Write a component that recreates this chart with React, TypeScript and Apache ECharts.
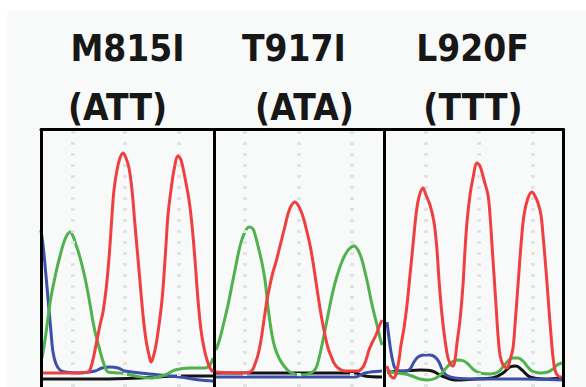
import React, { useEffect, useRef } from "react";
import * as echarts from "echarts";

// ---- labels ----
const mutationLabels = ["M815I", "T917I", "L920F"];
const codonLabels = ["(ATT)", "(ATA)", "(TTT)"];

// base-call positions (scan units) and panel dividers (scan units)
const baseCallScans = [31.5, 84, 138, 204, 258, 311, 385, 438, 492];
const panelDividers = [173, 343];

// ---- trace data: [scan, intensity] ----
// Panel 1 (M815I)
const redP1 = [[1,12],[29,12],[47,13],[50,18],[53,30],[56,45],[59,60],[62,73],[65,95],[67,115],[69,140],[71,170],[73,195],[76,215],[79,227],[82,232],[85,227],[88,217],[91,195],[94,160],[98,115],[102,70],[105,45],[108,30],[110,23],[112,27],[115,40],[118,60],[121,85],[123,110],[125,140],[127,170],[130,195],[133,215],[137,229],[140,225],[144,207],[148,185],[151,160],[154,125],[157,85],[160,55],[163,37],[166,25],[169,17],[172,13]];
const greenP1 = [[1,27],[4,45],[7,67],[10,88],[13,103],[16,117],[19,129],[22,140],[25,148],[29,153],[32,149],[35,140],[38,131],[41,120],[44,107],[47,92],[50,75],[52,63],[55,49],[58,38],[61,27],[64,18],[67,13],[79,12],[94,9],[109,7],[124,10],[134,15],[149,17],[164,17],[169,20],[172,27]];
const blueP1 = [[0,155],[2,140],[4,120],[6,98],[8,75],[10,53],[12,33],[15,21],[19,15],[24,13],[39,12],[54,14],[61,17],[69,18],[77,17],[84,14],[99,12],[119,10],[139,8],[159,5],[172,4]];
const blackP1 = [[1,6],[60,6],[100,7],[140,9],[172,9]];

// Panel 2 (T917I)
const redP2 = [[175,13],[199,12],[209,13],[212,16],[214,21],[217,30],[220,45],[223,65],[226,85],[229,100],[232,113],[235,123],[238,135],[241,147],[244,159],[247,171],[250,179],[254,183],[257,180],[260,174],[263,165],[266,153],[269,140],[272,123],[275,103],[278,83],[281,65],[284,50],[287,37],[290,29],[293,22],[297,17],[304,14],[317,14],[322,18],[325,25],[328,35],[331,42],[335,50],[338,58],[341,65]];
const greenP2 = [[175,35],[179,47],[183,63],[187,80],[191,100],[195,120],[199,139],[203,151],[208,158],[212,156],[215,147],[218,135],[221,122],[224,105],[226,87],[228,70],[231,50],[234,37],[238,27],[243,19],[249,13],[259,10],[270,12],[275,17],[278,27],[281,40],[284,55],[287,70],[290,85],[293,98],[296,109],[300,121],[304,130],[308,136],[313,139],[317,135],[321,125],[324,113],[327,100],[330,85],[333,72],[336,60],[339,47],[341,40]];
const blueP2 = [[175,8],[314,8],[324,12],[341,14]];
const blackP2 = [[175,12],[314,12],[324,9],[341,8]];

// Panel 3 (L920F)
const redP3 = [[346,19],[349,10],[353,7],[356,15],[358,25],[360,40],[363,57],[366,80],[369,110],[372,140],[375,170],[378,188],[382,197],[385,190],[389,180],[393,163],[396,135],[398,105],[401,70],[404,45],[407,27],[410,20],[412,19],[414,25],[416,42],[419,65],[422,100],[424,135],[426,163],[429,190],[432,207],[436,222],[439,219],[443,205],[447,190],[449,170],[451,140],[453,110],[455,80],[457,50],[459,30],[462,20],[466,17],[469,25],[472,37],[474,60],[477,100],[480,140],[483,170],[487,187],[491,193],[494,189],[497,182],[500,170],[502,150],[504,127],[506,102],[508,75],[510,50],[512,28],[514,15],[517,9],[521,8]];
const greenP3 = [[346,15],[354,12],[364,11],[371,9],[379,6],[387,5],[395,7],[401,12],[406,18],[411,23],[417,25],[423,24],[428,20],[433,15],[439,12],[449,11],[457,13],[462,18],[467,24],[472,27],[477,27],[482,24],[486,19],[491,14],[499,12],[507,13],[512,16],[516,20],[521,22]];
const blueP3 = [[346,63],[348,47],[350,33],[352,23],[354,17],[359,14],[365,14],[369,16],[373,23],[377,28],[383,30],[389,30],[394,28],[398,23],[401,16],[405,10],[414,7],[439,6],[479,6],[521,5]];
const blackP3 = [[346,13],[364,14],[379,15],[391,14],[401,9],[414,5],[434,6],[451,7],[462,12],[469,18],[475,19],[481,15],[489,8],[504,6],[521,7]];

const COLORS = { red: "#ee4040", green: "#4fb24d", blue: "#3d4fa8", black: "#141414" };

const traces: { color: string; data: number[][]; z: number }[] = [
  { color: COLORS.black, data: blackP1, z: 2 },
  { color: COLORS.black, data: blackP2, z: 2 },
  { color: COLORS.black, data: blackP3, z: 2 },
  { color: COLORS.blue, data: blueP1, z: 3 },
  { color: COLORS.blue, data: blueP2, z: 3 },
  { color: COLORS.blue, data: blueP3, z: 3 },
  { color: COLORS.green, data: greenP1, z: 4 },
  { color: COLORS.green, data: greenP2, z: 4 },
  { color: COLORS.green, data: greenP3, z: 4 },
  { color: COLORS.red, data: redP1, z: 5 },
  { color: COLORS.red, data: redP2, z: 5 },
  { color: COLORS.red, data: redP3, z: 5 },
];

// layout of header texts (pixel centres)
const mutationX = [127.5, 294, 472.5];
const codonX = [117.5, 304.5, 473];
const FONT = 'bold 38px "DejaVu Sans"';

const borderAxisLine = { show: true, onZero: false, lineStyle: { color: "#000", width: 3 } };

export default function App() {
  const ref = useRef<HTMLDivElement>(null);
  useEffect(() => {
    if (!ref.current) return;
    const chart = echarts.init(ref.current, undefined, { renderer: "svg" });
    const textEl = (t: string, x: number, y: number) => ({
      type: "text",
      x,
      y,
      scaleX: 0.87,
      z: 10,
      style: {
        text: t,
        font: FONT,
        fill: "#171717",
        textAlign: "center",
        textVerticalAlign: "middle",
        align: "center",
        verticalAlign: "middle",
      },
    });
    const series: any[] = traces.map((t) => ({
      type: "line",
      data: t.data,
      smooth: 0.35,
      symbol: "none",
      z: t.z,
      silent: true,
      lineStyle: { color: t.color, width: 3 },
      itemStyle: { color: t.color },
      emphasis: { disabled: true },
    }));
    series.push({
      type: "line",
      data: [],
      z: 1,
      silent: true,
      markLine: {
        silent: true,
        symbol: ["none", "none"],
        label: { show: false },
        emphasis: { disabled: true },
        lineStyle: { color: "#e2e4e3", width: 4, type: [3, 8] },
        data: baseCallScans.map((x) => ({ xAxis: x })),
      },
    });
    series.push({
      type: "line",
      data: [],
      z: 8,
      silent: true,
      markLine: {
        silent: true,
        symbol: ["none", "none"],
        label: { show: false },
        emphasis: { disabled: true },
        lineStyle: { color: "#000", width: 3, type: "solid" },
        data: panelDividers.map((x) => ({ xAxis: x })),
      },
    });
    const hiddenParts = {
      axisTick: { show: false },
      axisLabel: { show: false },
      splitLine: { show: false },
      z: 9,
    };
    chart.setOption({
      animation: false,
      backgroundColor: "#ffffff",
      grid: { left: 41, right: 22.5, top: 129.5, bottom: 0, show: false },
      xAxis: {
        type: "value",
        min: 0,
        max: 522.5,
        position: "top",
        axisLine: borderAxisLine,
        ...hiddenParts,
      },
      yAxis: [
        { type: "value", min: -2, max: 255.5, position: "left", axisLine: borderAxisLine, ...hiddenParts },
        { type: "value", min: -2, max: 255.5, position: "right", axisLine: borderAxisLine, ...hiddenParts },
      ],
      graphic: [
        {
          type: "rect",
          z: -10,
          silent: true,
          shape: { x: 7.5, y: 10, width: 600, height: 400 },
          style: { fill: "#f8faf9" },
        },
        ...mutationLabels.map((t, i) => textEl(t, mutationX[i], 48)),
        ...codonLabels.map((t, i) => textEl(t, codonX[i], 107)),
      ],
      series,
    });
    return () => chart.dispose();
  }, []);
  return (
    <div
      ref={ref}
      style={{ position: "fixed", left: 0, top: 0, width: 586, height: 387 }}
    />
  );
}
